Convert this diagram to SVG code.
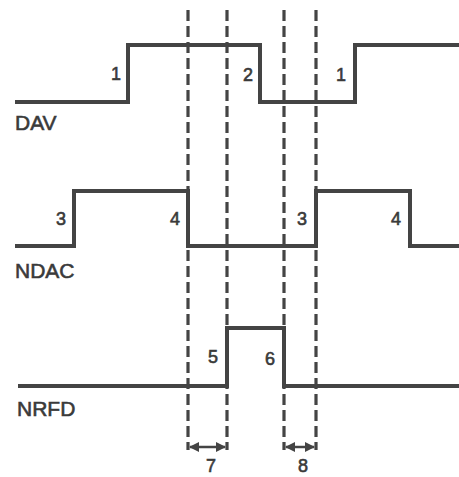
<svg xmlns="http://www.w3.org/2000/svg" width="459" height="477" viewBox="0 0 459 477">
<style>
.wave{fill:none;stroke:#444;stroke-width:4;stroke-linejoin:miter;stroke-linecap:butt}
.dash{fill:none;stroke:#444;stroke-width:3.2;stroke-dasharray:11 5}
.dim{fill:none;stroke:#444;stroke-width:2.5}
.lbl{font-family:"Liberation Sans",Arial,sans-serif;font-size:21px;fill:#3a3a3a;stroke:#3a3a3a;stroke-width:0.6}
.num{font-family:"Liberation Sans",Arial,sans-serif;font-size:18px;fill:#3a3a3a;stroke:#3a3a3a;stroke-width:0.6;text-anchor:middle}
</style>
<defs>
<marker id="ah" viewBox="0 0 10 10" refX="9" refY="5" markerWidth="4" markerHeight="4" orient="auto-start-reverse">
<path d="M0,0 L10,5 L0,10 z" fill="#444"/>
</marker>
</defs>
<rect width="459" height="477" fill="#fff"/>
<g id="DAV">
<path class="wave" d="M15,102 H128 V45 H260 V102 H355 V45 H459"/>
<text class="lbl" x="15" y="130">DAV</text>
<text class="num" x="116" y="80">1</text>
<text class="num" x="248" y="81">2</text>
<text class="num" x="341" y="81">1</text>
</g>
<g id="NDAC">
<path class="wave" d="M15,246 H74 V191 H188 V246 H316 V191 H410 V246 H459"/>
<text class="lbl" x="15" y="278">NDAC</text>
<text class="num" x="61" y="225">3</text>
<text class="num" x="175" y="225">4</text>
<text class="num" x="302" y="225">3</text>
<text class="num" x="396" y="225">4</text>
</g>
<g id="NRFD">
<path class="wave" d="M18,386 H227 V328 H284 V386 H459"/>
<text class="lbl" x="17" y="416">NRFD</text>
<text class="num" x="213" y="363">5</text>
<text class="num" x="270" y="365">6</text>
</g>
<g id="connectors">
<line class="dash" x1="188" y1="10" x2="188" y2="450"/>
<line class="dash" x1="227" y1="10" x2="227" y2="450"/>
<line class="dash" x1="284" y1="10" x2="284" y2="450"/>
<line class="dash" x1="316" y1="10" x2="316" y2="450"/>
<line class="dim" x1="190" y1="447" x2="225" y2="447" marker-start="url(#ah)" marker-end="url(#ah)"/>
<line class="dim" x1="286" y1="447" x2="314" y2="447" marker-start="url(#ah)" marker-end="url(#ah)"/>
</g>
<g id="dim-labels">
<text class="num" x="211" y="472">7</text>
<text class="num" x="303" y="472">8</text>
</g>
</svg>
